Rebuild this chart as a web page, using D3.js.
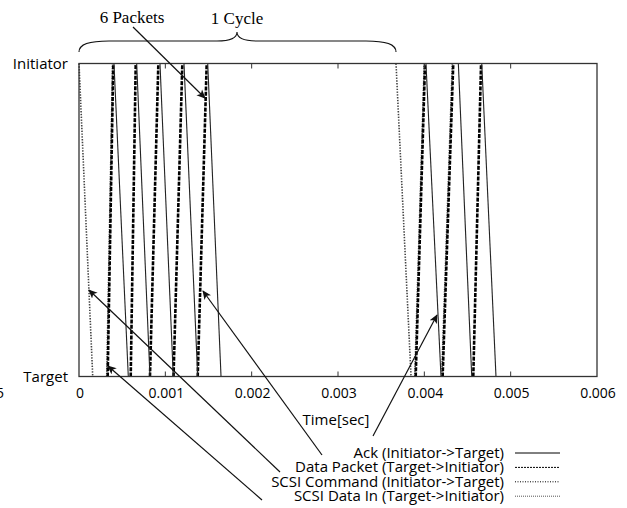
<!DOCTYPE html>
<html>
<head>
<meta charset="utf-8">
<script src="https://cdn.jsdelivr.net/npm/d3@7"></script>
<style>
  body { margin: 0; background: #fff; }
  svg { display: block; }
</style>
</head>
<body>
<svg id="chart" width="627" height="508"></svg>
<script>
// ----------------------------
// Data (time in seconds; each segment = [start, end])
// ----------------------------
const xTicks = [0, 0.001, 0.002, 0.003, 0.004, 0.005, 0.006];
const yLabels = ["Initiator", "Target"];

// Initiator -> Target (start at top, end at bottom)
const ackSegs = [
  [0.000405, 0.000571], [0.000668, 0.000822], [0.000938, 0.001092],
  [0.001216, 0.001375], [0.001491, 0.001645],
  [0.004019, 0.004193], [0.004394, 0.004549], [0.004665, 0.004830]
];
const scsiCommandSegs = [[0.0, 0.000159], [0.003672, 0.003846]];

// Target -> Initiator (start at bottom, end at top)
const dataPacketSegs = [
  [0.000332, 0.000397], [0.000599, 0.000657], [0.000822, 0.000919],
  [0.001095, 0.001197], [0.001375, 0.001479],
  [0.003900, 0.004008], [0.004212, 0.004335], [0.004567, 0.004657]
];
const scsiDataInSegs = [[0.000322, 0.000390], [0.003890, 0.004000], [0.004202, 0.004325]];

const legendNames = [
  "Ack (Initiator->Target)",
  "Data Packet (Target->Initiator)",
  "SCSI Command (Initiator->Target)",
  "SCSI Data In (Target->Initiator)"
];

// ----------------------------
// Plotting
// ----------------------------
const svg = d3.select("#chart");
const sans = "'Open Sans', 'DejaVu Sans', sans-serif";
const serif = "'Liberation Serif', 'DejaVu Serif', serif";

const x = d3.scaleLinear().domain([0, 0.006]).range([79, 597]);
const y = d3.scalePoint().domain(yLabels).range([63.5, 376.5]);

svg.append("defs").append("marker")
    .attr("id", "arrow")
    .attr("viewBox", "0 -5 10 10")
    .attr("refX", 9)
    .attr("refY", 0)
    .attr("markerWidth", 9)
    .attr("markerHeight", 9)
    .attr("markerUnits", "userSpaceOnUse")
    .attr("orient", "auto")
  .append("path")
    .attr("d", "M0,-4.5L10,0L0,4.5L2.5,0Z")
    .attr("fill", "#111");

const g = svg.append("g");

// Segments
const styles = {
  ack:   { stroke: "#222", width: 1.1, dash: null },
  data:  { stroke: "#000", width: 2.6, dash: "4,1.3" },
  cmd:   { stroke: "#444", width: 1.6, dash: "1.4,1.4" },
  dataIn:{ stroke: "#555", width: 1.8, dash: "1.2,1.2" }
};

function drawSegs(segs, down, st) {
  g.selectAll(null).data(segs).enter().append("line")
      .attr("x1", d => x(d[0]))
      .attr("x2", d => x(d[1]))
      .attr("y1", y(down ? "Initiator" : "Target"))
      .attr("y2", y(down ? "Target" : "Initiator"))
      .attr("stroke", st.stroke)
      .attr("stroke-width", st.width)
      .attr("stroke-dasharray", st.dash);
}
drawSegs(scsiCommandSegs, true, styles.cmd);
drawSegs(scsiDataInSegs, false, styles.dataIn);
drawSegs(dataPacketSegs, false, styles.data);
drawSegs(ackSegs, true, styles.ack);

// Frame
g.append("rect")
    .attr("x", x(0)).attr("y", y("Initiator"))
    .attr("width", x(0.006) - x(0))
    .attr("height", y("Target") - y("Initiator"))
    .attr("fill", "none")
    .attr("stroke", "#333")
    .attr("stroke-width", 1.3);

// Ticks (inward, top and bottom)
const inner = xTicks.slice(1, -1);
g.selectAll(null).data(inner).enter().append("line")
    .attr("x1", d => x(d)).attr("x2", d => x(d))
    .attr("y1", y("Target")).attr("y2", y("Target") - 5)
    .attr("stroke", "#333");
g.selectAll(null).data(inner).enter().append("line")
    .attr("x1", d => x(d)).attr("x2", d => x(d))
    .attr("y1", y("Initiator")).attr("y2", y("Initiator") + 5)
    .attr("stroke", "#333");

// Tick labels
g.selectAll(null).data(xTicks).enter().append("text")
    .attr("x", d => x(d) + 1)
    .attr("y", 398)
    .attr("text-anchor", "middle")
    .attr("font-family", sans)
    .attr("font-size", 14)
    .text(d => d === 0 ? "0" : d3.format(".3f")(d));

g.append("text")
    .attr("x", 4).attr("y", 398)
    .attr("text-anchor", "end")
    .attr("font-family", sans)
    .attr("font-size", 14)
    .text("5");

g.selectAll(null).data(yLabels).enter().append("text")
    .attr("x", 68)
    .attr("y", d => y(d) + 5)
    .attr("text-anchor", "end")
    .attr("font-family", sans)
    .attr("font-size", 15)
    .text(d => d);

g.append("text")
    .attr("x", 336).attr("y", 425)
    .attr("text-anchor", "middle")
    .attr("font-family", sans)
    .attr("font-size", 15)
    .text("Time[sec]");

// Legend
const legendStyles = [
  { stroke: "#000", width: 1, dash: null },
  { stroke: "#000", width: 1, dash: "2,1" },
  { stroke: "#000", width: 1, dash: "1,1.5" },
  { stroke: "#555", width: 1, dash: "1,1" }
];
const legend = g.selectAll(null).data(legendNames).enter().append("g")
    .attr("transform", (d, i) => `translate(0,${453 + i * 14.4})`);
legend.append("text")
    .attr("x", 504).attr("y", 5)
    .attr("text-anchor", "end")
    .attr("font-family", sans)
    .attr("font-size", 15)
    .text(d => d);
legend.append("line")
    .attr("x1", 515).attr("x2", 560)
    .attr("y1", 0).attr("y2", 0)
    .attr("stroke", (d, i) => legendStyles[i].stroke)
    .attr("stroke-width", (d, i) => legendStyles[i].width)
    .attr("stroke-dasharray", (d, i) => legendStyles[i].dash);

// Annotation arrows
const arrows = [
  { from: [133, 27], to: [205, 98] },
  { from: [280, 472], to: [89, 290] },
  { from: [262, 500], to: [108, 366] },
  { from: [322, 455], to: [203, 291] },
  { from: [373, 436], to: [437, 315] }
];
g.selectAll(null).data(arrows).enter().append("line")
    .attr("x1", d => d.from[0]).attr("y1", d => d.from[1])
    .attr("x2", d => d.to[0]).attr("y2", d => d.to[1])
    .attr("stroke", "#111")
    .attr("stroke-width", 1.2)
    .attr("marker-end", "url(#arrow)");

// Brace for one cycle
const bL = x(scsiCommandSegs[0][0]), bR = x(scsiCommandSegs[1][0]), bM = 237;
g.append("path")
    .attr("d", `M${bL},52 C${bL},44 ${bL + 10},41 ${bL + 30},41 L${bM - 20},41 C${bM - 6},41 ${bM},38 ${bM},32
                C${bM},38 ${bM + 6},41 ${bM + 20},41 L${bR - 30},41 C${bR - 10},41 ${bR},44 ${bR},52`)
    .attr("fill", "none")
    .attr("stroke", "#111")
    .attr("stroke-width", 1.1);

g.append("text")
    .attr("x", 132).attr("y", 23)
    .attr("text-anchor", "middle")
    .attr("font-family", serif)
    .attr("font-size", 17)
    .text("6 Packets");
g.append("text")
    .attr("x", 237).attr("y", 24)
    .attr("text-anchor", "middle")
    .attr("font-family", serif)
    .attr("font-size", 17)
    .text("1 Cycle");
</script>
</body>
</html>
